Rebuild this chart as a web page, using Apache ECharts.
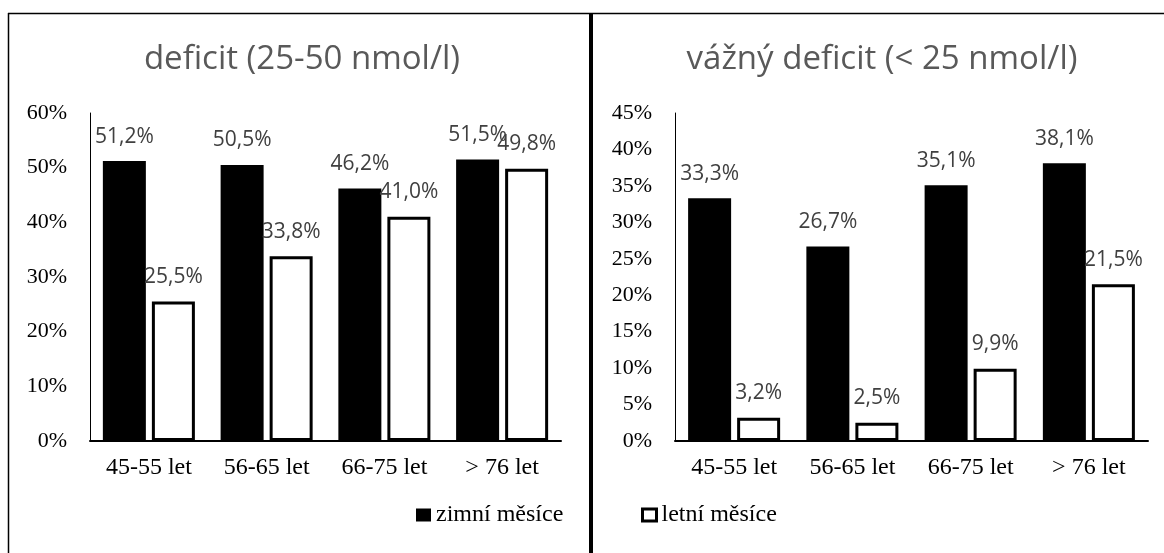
<!DOCTYPE html>
<html>
<head>
<meta charset="utf-8">
<script src="https://cdn.jsdelivr.net/npm/echarts@6/dist/echarts.min.js"></script>
<style>
html,body{margin:0;padding:0;background:#fff;}
#c{width:1164px;height:553px;}
</style>
</head>
<body>
<div id="c"></div>
<script>
const categories = ['45-55 let', '56-65 let', '66-75 let', '> 76 let'];
const seriesNames = ['zimní měsíce', 'letní měsíce'];
const titles = ['deficit (25-50 nmol/l)', 'vážný deficit (< 25 nmol/l)'];
const deficitWinter = [51.2, 50.5, 46.2, 51.5];
const deficitSummer = [25.5, 33.8, 41.0, 49.8];
const severeWinter = [33.3, 26.7, 35.1, 38.1];
const severeSummer = [3.2, 2.5, 9.9, 21.5];
const leftTicks = {min: 0, max: 60, interval: 10};
const rightTicks = {min: 0, max: 45, interval: 5};

const serif = 'Liberation Serif';
const sans = 'Open Sans';
const labelFmt = p => '{v|' + p.value.toFixed(1).replace('.', ',') + '%}';

const winterStyle = {color: '#000000'};
const summerStyle = {color: '#ffffff', borderColor: '#000000', borderWidth: 3};

function barSeries(name, data, idx, style) {
  return {
    name: name, type: 'bar', data: data,
    xAxisIndex: idx, yAxisIndex: idx,
    barWidth: 43, barGap: '14%',
    itemStyle: style,
    label: {show: true, position: 'top', distance: 14, formatter: labelFmt,
            rich: {v: {fontFamily: sans, fontSize: 21, color: '#404040'}}},
    emphasis: {disabled: true}
  };
}

function xAxis(idx) {
  return {type: 'category', gridIndex: idx, data: categories,
    axisLine: {lineStyle: {color: '#000', width: 2}},
    axisTick: {show: false},
    axisLabel: {fontFamily: serif, fontSize: 24, color: '#000', margin: 15}};
}
function yAxis(idx, t) {
  return {type: 'value', gridIndex: idx, min: t.min, max: t.max, interval: t.interval,
    axisLine: {show: true, lineStyle: {color: '#000', width: 1}},
    axisTick: {show: false}, splitLine: {show: false},
    axisLabel: {fontFamily: serif, fontSize: 22, color: '#000', margin: 23, formatter: '{value}%'}};
}

const legendText = {fontFamily: serif, fontSize: 24, color: '#000'};

const chart = echarts.init(document.getElementById('c'), null, {renderer: 'canvas'});
chart.setOption({
  animation: false,
  backgroundColor: '#fff',
  textStyle: {fontFamily: serif},
  title: [
    {text: titles[0], left: 297, top: 38, textAlign: 'center',
     textStyle: {fontFamily: sans, fontWeight: 'normal', fontSize: 33, color: '#595959'}},
    {text: titles[1], left: 877, top: 38, textAlign: 'center',
     textStyle: {fontFamily: sans, fontWeight: 'normal', fontSize: 33, color: '#595959'}}
  ],
  grid: [
    {left: 90, top: 113, width: 471, height: 328},
    {left: 675, top: 113, width: 473, height: 328}
  ],
  xAxis: [xAxis(0), xAxis(1)],
  yAxis: [yAxis(0, leftTicks), yAxis(1, rightTicks)],
  legend: [
    {data: [{name: seriesNames[0], icon: 'rect'}],
     left: 411, top: 498, itemWidth: 15, itemHeight: 13, itemGap: 0,
     textStyle: legendText},
    {data: [{name: seriesNames[1], icon: 'rect'}],
     left: 636, top: 498, itemWidth: 14, itemHeight: 12, itemGap: 0,
     itemStyle: {color: '#fff', borderColor: '#000', borderWidth: 3},
     textStyle: legendText}
  ],
  series: [
    barSeries(seriesNames[0], deficitWinter, 0, winterStyle),
    barSeries(seriesNames[1], deficitSummer, 0, summerStyle),
    barSeries(seriesNames[0], severeWinter, 1, winterStyle),
    barSeries(seriesNames[1], severeSummer, 1, summerStyle)
  ],
  graphic: [
    {type: 'line', shape: {x1: 8, y1: 13.5, x2: 1164, y2: 13.5}, style: {stroke: '#000', lineWidth: 1.5}, silent: true},
    {type: 'line', shape: {x1: 8.5, y1: 13, x2: 8.5, y2: 553}, style: {stroke: '#000', lineWidth: 1.5}, silent: true},
    {type: 'line', shape: {x1: 591, y1: 13, x2: 591, y2: 553}, style: {stroke: '#000', lineWidth: 4}, silent: true}
  ]
});
</script>
</body>
</html>
